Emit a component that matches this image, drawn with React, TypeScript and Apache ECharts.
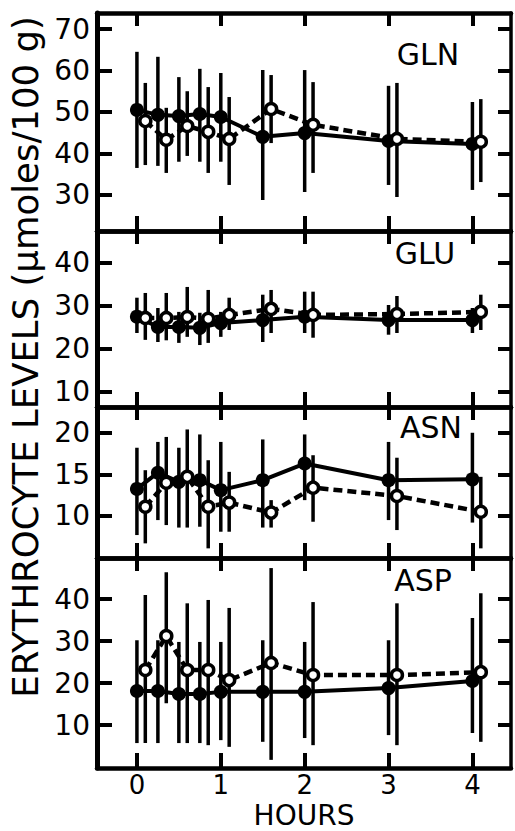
import React, { useEffect, useRef } from "react";
import * as echarts from "echarts";

// ---------- data ----------
const HOURS_FILLED = [0, 0.25, 0.5, 0.75, 1, 1.5, 2, 3, 4];
const HOURS_OPEN = [0.1, 0.35, 0.6, 0.85, 1.1, 1.6, 2.1, 3.1, 4.1];
const X_TICKS = [0, 1, 2, 3, 4];

const PANEL_NAMES = ["GLN", "GLU", "ASN", "ASP"];
const Y_TICKS = [
  [30, 40, 50, 60, 70],
  [10, 20, 30, 40],
  [10, 15, 20],
  [10, 20, 30, 40],
];
const Y_MIN = [21.3, 6.5, 4.94, -0.24];
const Y_MAX = [73.86, 47.4, 23.1, 49.8];

// GLN
const GLN_FILLED = [50.5, 49.3, 49, 49.5, 48.8, 44, 44.9, 43, 42.3];
const GLN_FILLED_LOW = [36.5, 37, 38, 38, 38, 28.8, 30.7, 32.4, 31.2];
const GLN_FILLED_HIGH = [64.5, 63.3, 58.4, 60.4, 59.4, 60.1, 60.1, 56.3, 52.4];
const GLN_OPEN = [47.8, 43.3, 46.6, 45.2, 43.5, 50.7, 46.9, 43.5, 42.8];
const GLN_OPEN_LOW = [37.2, 35.3, 39.4, 35.3, 32.4, 42.5, 35.3, 29.5, 33.1];
const GLN_OPEN_HIGH = [57, 51, 55, 56, 53.6, 58.9, 57.2, 57, 53.1];

// GLU
const GLU_FILLED = [27.5, 25.1, 25.1, 24.9, 26, 26.7, 27.5, 26.7, 26.7];
const GLU_FILLED_LOW = [23.7, 21.6, 21.4, 20.9, 22.8, 21.6, 23.7, 23.3, 23.7];
const GLU_FILLED_HIGH = [31.9, 29.5, 28.6, 28.4, 28.6, 32.6, 33.3, 30.2, 29.5];
const GLU_OPEN = [27.2, 27.2, 27.4, 27, 27.9, 29.3, 27.9, 28.1, 28.6];
const GLU_OPEN_LOW = [22.1, 22, 22.8, 21.4, 24.4, 23.7, 22.6, 23.7, 24.4];
const GLU_OPEN_HIGH = [33, 33, 34.4, 33.7, 31.9, 33.7, 33.3, 32.3, 32.6];

// ASN
const ASN_FILLED = [13.25, 15.2, 14.1, 14.3, 13.1, 14.3, 16.3, 14.3, 14.4];
const ASN_FILLED_LOW = [7.7, 9.5, 8.6, 8.7, 8.1, 8.6, 11.9, 9.5, 9.2];
const ASN_FILLED_HIGH = [18.2, 18.9, 18.2, 19.8, 18.9, 19.2, 19.8, 18.9, 20];
const ASN_OPEN = [11.1, 14, 14.7, 11.1, 11.6, 10.4, 13.4, 12.4, 10.5];
const ASN_OPEN_LOW = [6.7, 8.9, 8.6, 6.1, 8.1, 8.6, 9.3, 8.3, 6.1];
const ASN_OPEN_HIGH = [15.5, 19.5, 20.4, 16.7, 15.3, 11.9, 17.3, 17, 14.7];

// ASP
const ASP_FILLED = [18.1, 18.1, 17.4, 17.4, 17.9, 17.9, 17.9, 18.8, 20.5];
const ASP_FILLED_LOW = [5.7, 5.7, 5.7, 5.7, 6.4, 6, 6.9, 7.6, 8.1];
const ASP_FILLED_HIGH = [30.2, 30.2, 29.8, 29.8, 29.8, 30.2, 29.8, 30.2, 35.5];
const ASP_OPEN = [23.1, 31.2, 23.1, 23.1, 20.7, 24.8, 21.9, 21.9, 22.6];
const ASP_OPEN_LOW = [5.7, 15.2, 5.7, 5.2, 4.8, 1.7, 5.2, 5.2, 6];
const ASP_OPEN_HIGH = [41, 46.4, 39, 39.8, 37.9, 47.4, 39.3, 39, 41.4];

const FILLED = [GLN_FILLED, GLU_FILLED, ASN_FILLED, ASP_FILLED];
const FILLED_LOW = [GLN_FILLED_LOW, GLU_FILLED_LOW, ASN_FILLED_LOW, ASP_FILLED_LOW];
const FILLED_HIGH = [GLN_FILLED_HIGH, GLU_FILLED_HIGH, ASN_FILLED_HIGH, ASP_FILLED_HIGH];
const OPEN = [GLN_OPEN, GLU_OPEN, ASN_OPEN, ASP_OPEN];
const OPEN_LOW = [GLN_OPEN_LOW, GLU_OPEN_LOW, ASN_OPEN_LOW, ASP_OPEN_LOW];
const OPEN_HIGH = [GLN_OPEN_HIGH, GLU_OPEN_HIGH, ASN_OPEN_HIGH, ASP_OPEN_HIGH];

const Y_LABEL = "ERYTHROCYTE LEVELS (\u03bcmoles/100 g)";
const X_LABEL = "HOURS";

// ---------- layout ----------
const FONT = '"DejaVu Sans", sans-serif';
const X_MIN = -0.476;
const X_MAX = 4.46;
const GRID_LEFT = 97;
const GRID_RIGHT = 4;
const GRID_TOPS = [13, 231, 407, 558];
const GRID_HEIGHTS = [218, 176, 151, 210];
const TITLE_POS = [
  [428, 54],
  [425, 253],
  [431, 427],
  [423, 580],
];

function buildOption() {
  const grid: any[] = [];
  const xAxis: any[] = [];
  const yAxis: any[] = [];
  const series: any[] = [];
  const graphic: any[] = [];

  const errRender = (params: any, api: any) => {
    const x = api.value(0);
    const p1 = api.coord([x, api.value(1)]);
    const p2 = api.coord([x, api.value(2)]);
    return {
      type: "line",
      shape: { x1: p1[0], y1: p1[1], x2: p2[0], y2: p2[1] },
      style: { stroke: "#000", lineWidth: 3.5 },
    };
  };

  for (let i = 0; i < 4; i++) {
    grid.push({ left: GRID_LEFT, right: GRID_RIGHT, top: GRID_TOPS[i], height: GRID_HEIGHTS[i] });
    const xCommon = {
      type: "value",
      gridIndex: i,
      min: X_MIN,
      max: X_MAX,
      splitLine: { show: false },
    };
    xAxis.push({
      ...xCommon,
      position: "bottom",
      axisLine: { show: true, onZero: false, lineStyle: { color: "#000", width: 4.5 } },
      axisTick: { show: true, inside: true, length: 15, customValues: X_TICKS, lineStyle: { color: "#000", width: 4 } },
      axisLabel: {
        show: i === 3,
        customValues: X_TICKS,
        margin: 4,
        fontSize: 26,
        color: "#000",
        fontFamily: FONT,
      },
    });
    xAxis.push({
      ...xCommon,
      position: "top",
      axisLine: { show: true, onZero: false, lineStyle: { color: "#000", width: 4.5 } },
      axisTick: { show: true, inside: true, length: 13, customValues: X_TICKS, lineStyle: { color: "#000", width: 4 } },
      axisLabel: { show: false },
    });
    const yCommon = {
      type: "value",
      gridIndex: i,
      min: Y_MIN[i],
      max: Y_MAX[i],
      splitLine: { show: false },
    };
    yAxis.push({
      ...yCommon,
      position: "left",
      axisLine: { show: true, onZero: false, lineStyle: { color: "#000", width: 5 } },
      axisTick: { show: true, inside: true, length: 15, customValues: Y_TICKS[i], lineStyle: { color: "#000", width: 4 } },
      axisLabel: {
        show: true,
        customValues: Y_TICKS[i],
        margin: 7,
        fontSize: 28,
        color: "#000",
        fontFamily: FONT,
      },
    });
    yAxis.push({
      ...yCommon,
      position: "right",
      axisLine: { show: true, onZero: false, lineStyle: { color: "#000", width: 3.5 } },
      axisTick: { show: true, inside: true, length: 13, customValues: Y_TICKS[i], lineStyle: { color: "#000", width: 4 } },
      axisLabel: { show: false },
    });

    const filledPts = HOURS_FILLED.map((h, k) => [h, FILLED[i][k]]);
    const openPts = HOURS_OPEN.map((h, k) => [h, OPEN[i][k]]);
    const filledErr = HOURS_FILLED.map((h, k) => [h, FILLED_LOW[i][k], FILLED_HIGH[i][k]]);
    const openErr = HOURS_OPEN.map((h, k) => [h, OPEN_LOW[i][k], OPEN_HIGH[i][k]]);

    series.push({
      type: "custom",
      xAxisIndex: 2 * i,
      yAxisIndex: 2 * i,
      renderItem: errRender,
      encode: { x: 0, y: [1, 2] },
      data: filledErr,
      z: 1,
      silent: true,
    });
    series.push({
      type: "custom",
      xAxisIndex: 2 * i,
      yAxisIndex: 2 * i,
      renderItem: errRender,
      encode: { x: 0, y: [1, 2] },
      data: openErr,
      z: 1,
      silent: true,
    });
    series.push({
      type: "line",
      xAxisIndex: 2 * i,
      yAxisIndex: 2 * i,
      data: filledPts,
      symbol: "circle",
      symbolSize: 14,
      itemStyle: { color: "#000" },
      lineStyle: { color: "#000", width: 4 },
      z: 2,
      silent: true,
    });
    series.push({
      type: "line",
      xAxisIndex: 2 * i,
      yAxisIndex: 2 * i,
      data: openPts,
      symbol: "circle",
      symbolSize: 11,
      showAllSymbol: true,
      itemStyle: { color: "#fff", borderColor: "#000", borderWidth: 3.5 },
      lineStyle: { color: "#000", width: 4.5, type: [9, 5] },
      z: 3,
      silent: true,
    });

    graphic.push({
      type: "text",
      x: TITLE_POS[i][0],
      y: TITLE_POS[i][1],
      style: {
        text: PANEL_NAMES[i],
        font: `30px ${FONT}`,
        fill: "#000",
        textAlign: "center",
        textVerticalAlign: "middle",
      },
    });
  }

  graphic.push({
    type: "text",
    x: 25,
    y: 357,
    rotation: Math.PI / 2,
    style: {
      text: Y_LABEL,
      font: `35.5px ${FONT}`,
      fill: "#000",
      textAlign: "center",
      textVerticalAlign: "middle",
    },
  });
  graphic.push({
    type: "text",
    x: 304,
    y: 815,
    style: {
      text: X_LABEL,
      font: `28px ${FONT}`,
      fill: "#000",
      textAlign: "center",
      textVerticalAlign: "middle",
    },
  });

  return {
    animation: false,
    backgroundColor: "#fff",
    grid,
    xAxis,
    yAxis,
    series,
    graphic,
  };
}

export default function App() {
  const ref = useRef<HTMLDivElement>(null);
  useEffect(() => {
    const chart = echarts.init(ref.current as HTMLDivElement, null, { renderer: "svg" });
    chart.setOption(buildOption() as any);
    return () => chart.dispose();
  }, []);
  return (
    <div
      ref={ref}
      style={{ position: "absolute", left: 0, top: 0, width: 515, height: 831, background: "#fff" }}
    />
  );
}
